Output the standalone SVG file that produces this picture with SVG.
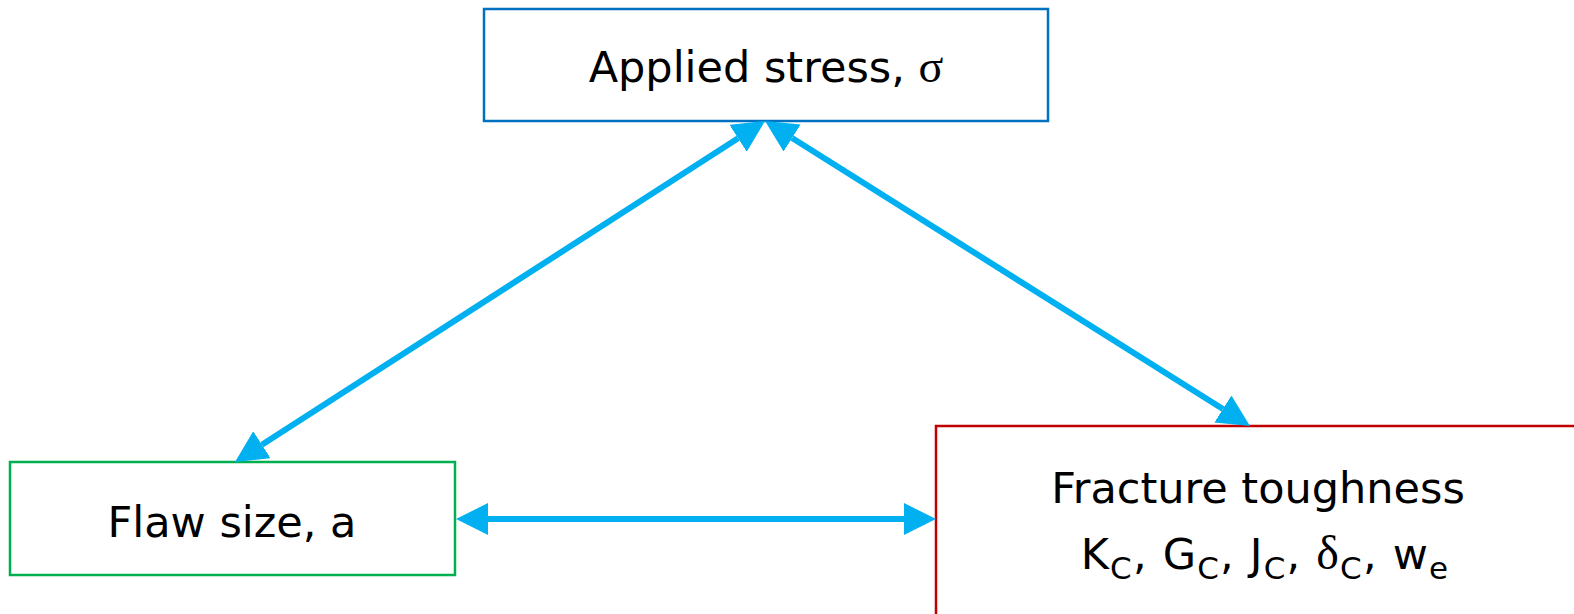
<svg xmlns="http://www.w3.org/2000/svg" width="1574" height="614" viewBox="0 0 1574 614">
  <style>
    .box { fill: #ffffff; stroke-width: 2.5; }
    .lbl { font-family: "DejaVu Sans", Verdana, sans-serif; font-size: 43px; fill: #000000; text-anchor: middle; }
    .sym { font-family: "Liberation Serif", "Times New Roman", serif; }
    .sub { font-size: 31px; }
    .link { stroke: #00B0F0; stroke-width: 6; fill: none; marker-start: url(#head); marker-end: url(#head); }
  </style>
  <defs>
    <marker id="head" viewBox="0 0 32 32" refX="0" refY="16" markerWidth="32" markerHeight="32" markerUnits="userSpaceOnUse" orient="auto-start-reverse">
      <path d="M0,0 L32,16 L0,32 Z" fill="#00B0F0"/>
    </marker>
  </defs>

  <g id="applied-stress">
    <rect class="box" x="484" y="9" width="564" height="112" stroke="#0070C0"/>
    <text class="lbl" x="766" y="82">Applied stress, <tspan class="sym" font-size="46">σ</tspan></text>
  </g>

  <g id="flaw-size">
    <rect class="box" x="10" y="462" width="445" height="113" stroke="#00B050"/>
    <text class="lbl" x="232" y="537">Flaw size, a</text>
  </g>

  <g id="fracture-toughness">
    <rect class="box" x="936" y="426" width="650" height="200" stroke="#C00000"/>
    <text class="lbl" x="1258" y="503">Fracture toughness</text>
    <text class="lbl" x="1265" y="569" letter-spacing="1.2">K<tspan class="sub" dy="10">C</tspan><tspan dy="-10">, G</tspan><tspan class="sub" dy="10">C</tspan><tspan dy="-10">, J</tspan><tspan class="sub" dy="10">C</tspan><tspan dy="-10">, </tspan><tspan class="sym" font-size="48">δ</tspan><tspan class="sub" dy="10">C</tspan><tspan dy="-10">, w</tspan><tspan class="sub" dy="10">e</tspan></text>
  </g>

  <g id="connectors">
    <line class="link" x1="738.1" y1="138.3" x2="261.9" y2="444.7"/>
    <line class="link" x1="792.1" y1="138.0" x2="1222.9" y2="409.0"/>
    <line class="link" x1="488" y1="519" x2="904" y2="519"/>
  </g>
</svg>
